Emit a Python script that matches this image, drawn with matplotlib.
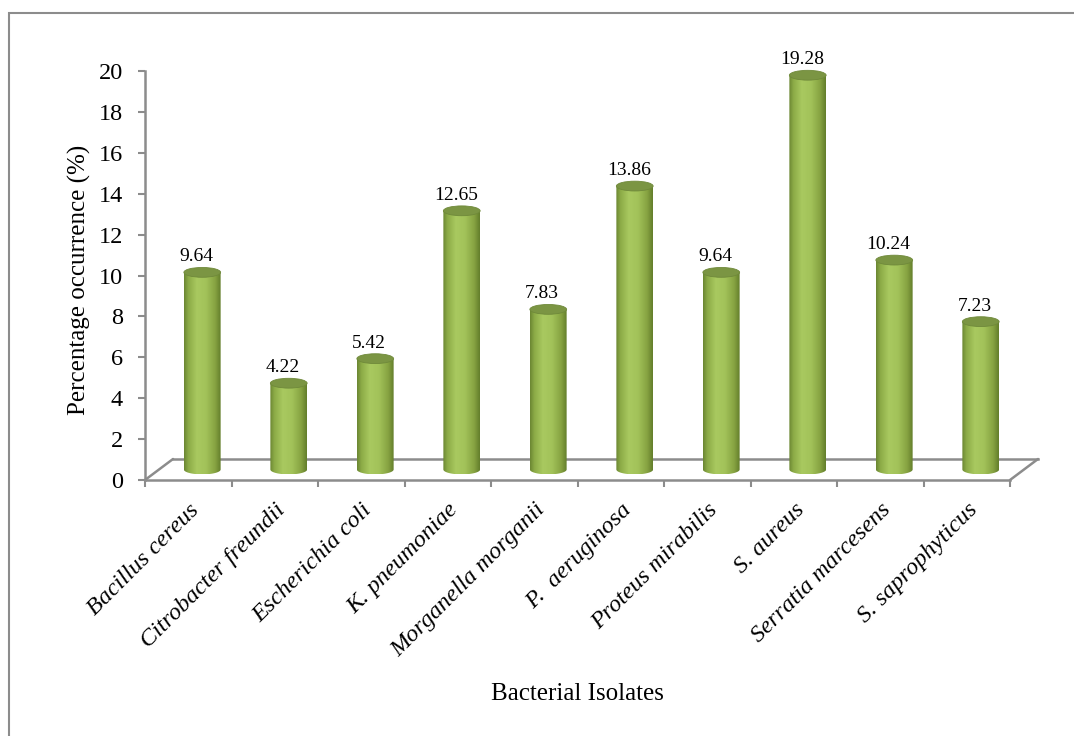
import numpy as np
import matplotlib
matplotlib.use("Agg")
import matplotlib.pyplot as plt
import matplotlib.transforms as mtransforms
from matplotlib.colors import LinearSegmentedColormap
from matplotlib.patches import Ellipse, PathPatch, Rectangle
from matplotlib.path import Path

isolates = ["Bacillus cereus", "Citrobacter freundii", "Escherichia coli",
            "K. pneumoniae", "Morganella morganii", "P.  aeruginosa",
            "Proteus mirabilis", "S. aureus", "Serratia marcesens",
            "S. saprophyticus"]
percent = [9.64, 4.22, 5.42, 12.65, 7.83, 13.86, 9.64, 19.28, 10.24, 7.23]
yticks = [0, 2, 4, 6, 8, 10, 12, 14, 16, 18, 20]

plt.rcParams['font.family'] = ['Liberation Serif', 'DejaVu Serif']
GRAY = '#8c8c8c'

fig = plt.figure(figsize=(10.74, 7.36), dpi=100)
ax = fig.add_axes([145/1074, 256/736, 865/1074, 409/736])
ax.set_xlim(0, len(isolates))
ax.set_ylim(0, 20)

# 3d depth offsets (pixels at 100 dpi)
def shift(dx, dy):
    return ax.transData + mtransforms.ScaledTranslation(dx/100, dy/100, fig.dpi_scale_trans)

mid = shift(14, 10.5)
back = shift(28, 21)
lab = shift(8, 21.5)

# floor
ax.plot([0, len(isolates)], [0, 0], color=GRAY, lw=1.8, transform=back, clip_on=False, zorder=1)
for xe in [0, len(isolates)]:
    ax.annotate('', xy=(xe, 0), xycoords=back, xytext=(xe, 0), textcoords='data',
                arrowprops=dict(arrowstyle='-', color=GRAY, lw=1.8, shrinkA=0, shrinkB=0),
                annotation_clip=False, zorder=1)

cmap = LinearSegmentedColormap.from_list('cyl', [
    (0.0, '#6a8632'), (0.12, '#8cab47'), (0.35, '#a9c960'),
    (0.6, '#a2c259'), (0.85, '#86a241'), (1.0, '#627d2b')])
grad = cmap(np.linspace(0, 1, 256))[None, :, :3]

w = 0.425
h = 0.48
t = np.linspace(np.pi, 2*np.pi, 60)
for i, v in enumerate(percent):
    cx = i + 0.5
    verts = list(zip(cx + w/2*np.cos(t), h/2*np.sin(t)))
    verts += [(cx + w/2, v), (cx - w/2, v), (cx - w/2, 0)]
    codes = [Path.MOVETO] + [Path.LINETO]*(len(verts) - 1)
    body = PathPatch(Path(verts, codes), transform=mid, fc='none', ec='none')
    ax.add_patch(body)
    im = ax.imshow(grad, extent=[cx - w/2, cx + w/2, -h/2, v], aspect='auto',
                   transform=mid, interpolation='bilinear', zorder=2)
    im.set_clip_box(None)
    im.set_clip_path(body)
    top = Ellipse((cx, v), w, h, transform=mid, fc='#7b9543', ec='#6f893a',
                  lw=0.6, zorder=3, clip_on=False)
    ax.add_patch(top)
    ax.text(cx, v, f"{v:.2f}", transform=lab, ha='center', va='baseline',
            fontsize=14, zorder=4)

ax.set_xlim(0, len(isolates))
ax.set_ylim(0, 20)

for s in ['top', 'right']:
    ax.spines[s].set_visible(False)
for s in ['left', 'bottom']:
    ax.spines[s].set_color(GRAY)
    ax.spines[s].set_linewidth(1.8)

ax.set_yticks(yticks)
ax.set_yticklabels([str(y) for y in yticks], fontsize=17.5)
ax.tick_params(axis='y', length=5, width=1.5, color=GRAY, pad=11)
ax.set_xticks(range(len(isolates) + 1))
ax.set_xticklabels([])
ax.tick_params(axis='x', which='major', length=5, width=1.5, color=GRAY)
ax.set_xticks(np.arange(len(isolates)) + 0.5, minor=True)
ax.set_xticklabels(isolates, minor=True, fontsize=17.5, style='italic',
                   rotation=45, ha='right', va='top', rotation_mode='anchor')
ax.tick_params(axis='x', which='minor', length=0, pad=14)
for lbl in ax.get_xticklabels(minor=True):
    lbl.set_x(lbl.get_position()[0])

ax.set_ylabel("Percentage occurrence (%)", fontsize=18)
ax.yaxis.set_label_coords(-0.062, 0.489)
ax.set_xlabel("Bacterial Isolates", fontsize=18)
ax.xaxis.set_label_coords(0.5, -0.496)

fig.add_artist(Rectangle((9/1074, -0.1), 1.2, (736 - 13)/736 + 0.1,
                         transform=fig.transFigure, fill=False, ec=GRAY, lw=1.5))

fig.savefig("out.png", dpi=100)
